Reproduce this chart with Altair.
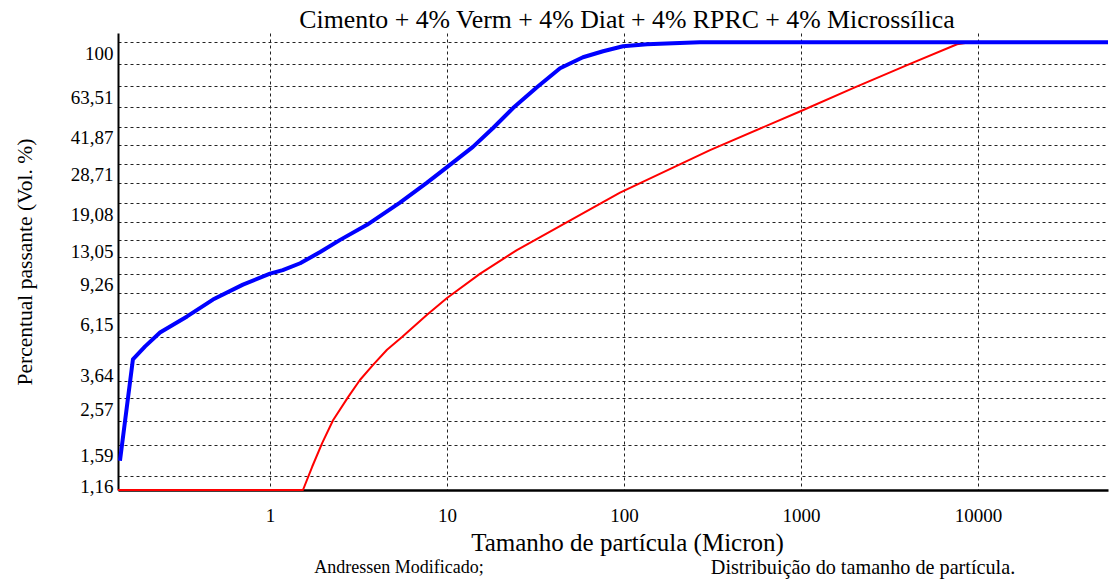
import altair as alt
import pandas as pd

# ---- data ----
blue_size = [0.142, 0.168, 0.197, 0.239, 0.340, 0.476, 0.703, 1.0, 1.18, 1.48, 1.92, 2.49,
             3.53, 5.42, 7.71, 10.0, 14.0, 18.2, 23.6, 32.2, 43.5, 58.6, 76.1, 98.6, 135,
             189, 268, 54200]
blue_pct = [1.35, 3.83, 4.38, 5.05, 5.96, 7.09, 8.27, 9.26, 9.6, 10.3, 11.56, 13.1,
            15.3, 19.2, 23.6, 27.7, 34.1, 41.4, 50.8, 63.0, 76.6, 85.7, 91.2, 96.0, 98.0,
            99.0, 100, 100]

red_size = [0.1384, 1.535, 1.73, 1.97, 2.27, 2.76, 3.22, 3.82, 4.58, 5.57, 7.71, 10,
            15.4, 24.8, 94.9, 306, 1000, 1968, 3970, 7610, 9010]
red_pct = [1.0, 1.0, 1.27, 1.62, 2.05, 2.60, 3.10, 3.62, 4.23, 4.82, 6.06, 7.21,
           9.26, 11.8, 21.3, 33.0, 49.3, 62.4, 79.0, 98.0, 100]

y_label_values = [100, 63.51, 41.87, 28.71, 19.08, 13.05, 9.26, 6.15, 3.64, 2.57, 1.59, 1.16]
y_grid_values = [100, 79.7, 63.51, 51.6, 41.87, 34.7, 28.71, 23.4, 19.08, 15.8, 13.05, 11.0,
                 9.26, 7.55, 6.15, 4.8, 3.64, 3.06, 2.57, 2.04, 1.59, 1.16]
x_tick_values = [1, 10, 100, 1000, 10000]

title_text = "Cimento + 4% Verm + 4% Diat + 4% RPRC + 4%  Microssílica"
x_title = "Tamanho de partícula (Micron)"
y_title = "Percentual passante (Vol. %)"
legend_left = "Andressen Modificado;"
legend_right = "Distribuição do tamanho de partícula."

FONT = "Liberation Serif"
W, H = 990, 457

blue_df = pd.DataFrame({"size": blue_size, "pct": blue_pct})
red_df = pd.DataFrame({"size": red_size, "pct": red_pct})

label_list = ",".join(str(v) for v in y_label_values)
y_label_expr = (
    f"indexof([{label_list}], datum.value) < 0 ? '' : "
    "(datum.value == 100 ? '100' : replace(format(datum.value, '.2f'), '.', ','))"
)

x_enc = alt.X(
    "size:Q",
    scale=alt.Scale(type="log", domain=[0.1384, 54200], nice=False),
    axis=alt.Axis(
        values=x_tick_values,
        labelExpr="format(datum.value, '.0f')",
        title=x_title,
        titleFont=FONT, titleFontSize=25, titleFontWeight="normal", titleColor="black",
        titleX=509, titleY=52, titleAnchor="middle", titleAlign="center", titleBaseline="middle",
        labelFont=FONT, labelFontSize=19, labelColor="black", labelPadding=16,
        ticks=False, domainColor="black", domainWidth=2.5, zindex=0,
        grid=True, gridColor="#222222", gridDash=[3, 3], gridWidth=1, gridOpacity=1,
    ),
)
y_enc = alt.Y(
    "pct:Q",
    scale=alt.Scale(type="log", domain=[1.0, 110], nice=False),
    axis=alt.Axis(
        values=y_grid_values,
        labelExpr=y_label_expr,
        title=y_title,
        titleFont=FONT, titleFontSize=21.5, titleFontWeight="normal", titleColor="black",
        titleX=-93, titleY=H / 2, titleAngle=270, titleAlign="center", titleBaseline="middle",
        labelFont=FONT, labelFontSize=19, labelColor="black", labelPadding=5,
        labelOffset=11,
        ticks=False, domainColor="black", domainWidth=2, zindex=0,
        grid=True, gridColor="#222222", gridDash=[3, 3], gridWidth=1, gridOpacity=1,
    ),
)

blue = alt.Chart(blue_df).mark_line(
    color="#0000ff", strokeWidth=4, clip=True, strokeJoin="round"
).encode(x=x_enc, y=y_enc)
red = alt.Chart(red_df).mark_line(
    color="#ff0000", strokeWidth=2, clip=False, strokeJoin="round"
).encode(x=x_enc, y=y_enc)

title_mark = alt.Chart(pd.DataFrame({"t": [title_text]})).mark_text(
    font=FONT, fontSize=25.8, color="black", align="center", baseline="middle"
).encode(text="t:N", x=alt.value(509), y=alt.value(-13))
leg1 = alt.Chart(pd.DataFrame({"t": [legend_left]})).mark_text(
    font=FONT, fontSize=18, color="black", align="center", baseline="middle"
).encode(text="t:N", x=alt.value(281), y=alt.value(535))
leg2 = alt.Chart(pd.DataFrame({"t": [legend_right]})).mark_text(
    font=FONT, fontSize=20.2, color="black", align="center", baseline="middle"
).encode(text="t:N", x=alt.value(745), y=alt.value(535))

chart = (
    alt.layer(red, blue, title_mark, leg1, leg2)
    .properties(
        width=W, height=H,
        autosize=alt.AutoSizeParams(type="none"),
        padding={"left": 118, "top": 33, "right": 1, "bottom": 92},
        background="white",
    )
    .configure_view(stroke=None)
)

chart.save("out.html", embed_options={"renderer": "svg", "actions": False})
